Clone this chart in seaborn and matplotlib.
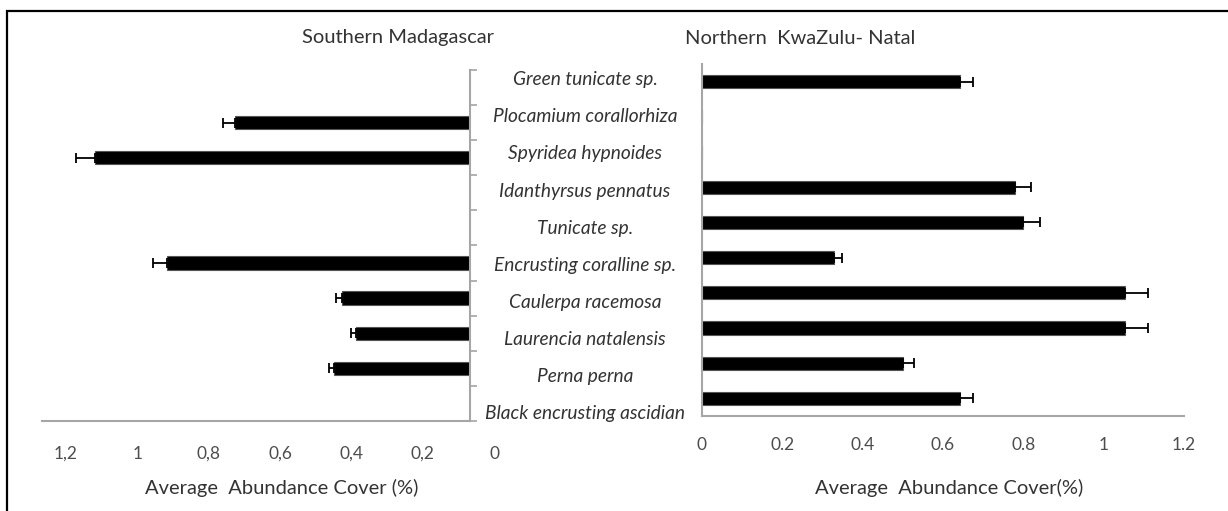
import matplotlib
import matplotlib.pyplot as plt
import matplotlib.transforms as mtransforms
import numpy as np
import seaborn as sns
from matplotlib.patches import Rectangle

matplotlib.use('Agg')

species = ['Green tunicate sp.', 'Plocamium corallorhiza', 'Spyridea hypnoides',
           'Idanthyrsus pennatus', 'Tunicate sp.', 'Encrusting coralline sp.',
           'Caulerpa racemosa', 'Laurencia natalensis', 'Perna perna',
           'Black encrusting ascidian']

# average abundance cover (%) and error (one sided)
madagascar_cover = [0, 0.66, 1.05, 0, 0, 0.85, 0.36, 0.32, 0.38, 0]
madagascar_err = [0, 0.033, 0.055, 0, 0, 0.04, 0.016, 0.015, 0.016, 0]
kzn_cover = [0.643, 0, 0, 0.78, 0.80, 0.33, 1.054, 1.054, 0.50, 0.643]
kzn_err = [0.032, 0, 0, 0.04, 0.042, 0.019, 0.056, 0.056, 0.028, 0.032]

x_ticks = [0, 0.2, 0.4, 0.6, 0.8, 1.0, 1.2]
left_tick_labels = ['0', '0,2', '0,4', '0,6', '0,8', '1', '1,2']
right_tick_labels = ['0', '0.2', '0.4', '0.6', '0.8', '1', '1.2']

AXIS_GREY = '#a6a6a6'
TEXT_GREY = '#333333'
W, H = 1228, 511


def fig_box(x0, y0, x1, y1):
    # pixel box (top-left origin) -> figure fraction
    return [x0 / W, 1 - y1 / H, (x1 - x0) / W, (y1 - y0) / H]


def draw_panel(ax, cover, err, labels, side):
    cover = np.array(cover)
    err = np.array(err)
    pos = np.arange(len(species))

    sns.barplot(x=cover, y=species, orient='h', color='black', saturation=1,
                width=0.38, edgecolor='#555555', linewidth=0.8, ax=ax)
    mask = cover > 0
    ax.errorbar(cover[mask], pos[mask], xerr=[np.zeros(mask.sum()), err[mask]],
                fmt='none', ecolor='black', elinewidth=1.3, capsize=3.5, capthick=1.3)

    ax.set_ylim(len(species) - 0.5, -0.5)
    ax.set_yticks(np.arange(-0.5, len(species), 1))
    ax.set_yticklabels([])
    ax.set_xticks(x_ticks)
    ax.set_xticklabels(labels)
    ax.set_ylabel('')

    for s in ax.spines.values():
        s.set_color(AXIS_GREY)
        s.set_linewidth(1.5)
    ax.spines['top'].set_visible(False)
    if side == 'left':
        ax.set_xlim(1.2, 0)
        ax.spines['left'].set_visible(False)
        ax.yaxis.tick_right()
    else:
        ax.set_xlim(0, 1.2)
        ax.spines['right'].set_visible(False)
    ax.tick_params(axis='both', direction='out', length=5, width=1.2,
                   color=AXIS_GREY, labelcolor='#4d4d4d', labelsize=12.5)
    ax.tick_params(axis='x', pad=13 if side == 'left' else 10)


sns.set_style('white')
plt.rcParams['font.family'] = ['Lato', 'DejaVu Sans']

fig = plt.figure(figsize=(W / 100, H / 100), dpi=100)

ax_left = fig.add_axes(fig_box(42, 70, 470, 421))
draw_panel(ax_left, madagascar_cover, madagascar_err, left_tick_labels, 'left')
ax_left.set_xlabel('Average  Abundance Cover (%)', fontsize=14.5, color=TEXT_GREY)
ax_left.xaxis.set_label_coords(0.561, -0.165)
# the tick labels of this panel sit a bit right of their ticks
shift = mtransforms.ScaledTranslation(0.24, 0, fig.dpi_scale_trans)
for lbl in ax_left.get_xticklabels():
    lbl.set_transform(lbl.get_transform() + shift)

ax_right = fig.add_axes(fig_box(701.7, 64, 1184, 416))
draw_panel(ax_right, kzn_cover, kzn_err, right_tick_labels, 'right')
ax_right.set_xlabel('Average  Abundance Cover(%)', fontsize=14.5, color=TEXT_GREY)
ax_right.xaxis.set_label_coords(0.513, -0.18)

# species names between the two panels
ax_mid = fig.add_axes(fig_box(480, 61.5, 690, 431.5))
ax_mid.set_xlim(0, 1)
ax_mid.set_ylim(len(species) - 0.5, -0.5)
ax_mid.axis('off')
for i, name in enumerate(species):
    ax_mid.text(0.5, i, name, ha='center', va='center', style='italic',
                fontsize=13.8, color=TEXT_GREY)

fig.text(398 / W, 1 - 38 / H, 'Southern Madagascar', ha='center', va='center',
         fontsize=14.5, color=TEXT_GREY)
fig.text(800 / W, 1 - 38 / H, 'Northern  KwaZulu- Natal', ha='center', va='center',
         fontsize=14.5, color=TEXT_GREY)

# outer frame (right and bottom edges fall outside the image)
fig.patches.append(Rectangle((7 / W, -0.2), 1.5, 1 - 11 / H + 0.2, transform=fig.transFigure,
                             fill=False, edgecolor='black', linewidth=1.6))

fig.savefig('out.png', dpi=100)
